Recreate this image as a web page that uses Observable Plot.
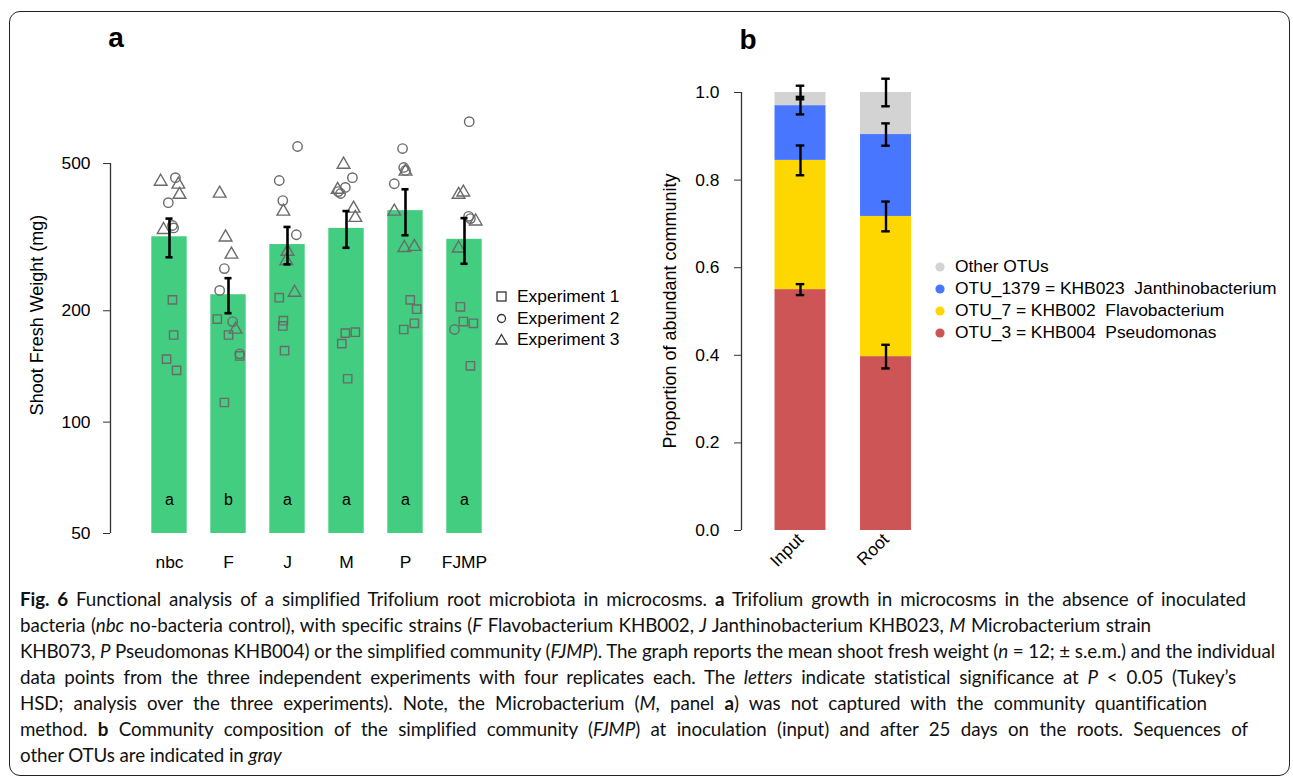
<!DOCTYPE html>
<html><head><meta charset="utf-8">
<script src="https://cdn.jsdelivr.net/npm/d3@7"></script>
<script src="https://cdn.jsdelivr.net/npm/@observablehq/plot@0.6"></script>
<style>
body{margin:0;width:1293px;height:778px;position:relative;background:#fff;font-family:"Liberation Sans",Arial,sans-serif;overflow:hidden;color:#000}
.abs{position:absolute}
#frame{left:9px;top:11px;width:1281px;height:765px;border:1.4px solid #222;border-radius:11px;box-sizing:border-box}
.plab{font-weight:bold;font-size:28px;transform:translate(-50%,-50%);line-height:1}
.ylab{font-size:18px;white-space:nowrap;transform:translate(-50%,-50%) rotate(-90deg);line-height:1}
.leg{font-size:17.4px;white-space:pre;line-height:1}
.leg span.t{position:absolute;transform:translateY(-50%)}
#caption{left:20px;top:586px;font-family:"Liberation Sans Narrow",Lato,sans-serif;color:#111}
.cl{height:26px;line-height:26px;white-space:nowrap}
</style></head><body>
<div id="frame" class="abs"></div>
<div class="abs plab" style="left:116px;top:38px">a</div>
<div class="abs plab" style="left:748px;top:40px">b</div>
<div id="chartA" class="abs" style="left:0;top:0"></div>
<div id="chartB" class="abs" style="left:640px;top:0"></div>
<div class="abs ylab" style="left:37px;top:315px">Shoot Fresh Weight (mg)</div>
<div class="abs ylab" style="left:670px;top:311px">Proportion of abundant community</div>
<div id="legA" class="abs leg" style="left:0;top:0"></div>
<div id="legB" class="abs leg" style="left:0;top:0"></div>
<div id="caption" class="abs"></div>
<script>
// ---------- Panel a data ----------
const treatments = ["nbc","F","J","M","P","FJMP"];
const meanWeight = [317,221,302,334,373,312];
const semWeight  = [38,24,35,38,53,44];
const letters    = ["a","b","a","a","a","a"];
const yTicksA    = [50,100,200,500];
const experiments = ["Experiment 1","Experiment 2","Experiment 3"];
// individual plants (mg), four replicates per treatment
const exp1Weight = [[214,172,148,138],[190,172,151,113],[217,188,182,156],[175,174,163,131],[214,202,185,178],[205,187,185,142]];
const exp2Weight = [[458,392,340,335],[260,227,187,153],[556,450,397,321],[458,431,420,415],[549,488,479,441],[649,360,178,355]];
const exp3Weight = [[447,439,412,331],[415,316,284,178],[371,289,273,224],[497,425,378,357],[476,371,298,296],[418,412,349,295]];
// horizontal jitter (fraction of category step)
const exp1Jitter = [[.05,.07,-.05,.12],[-.19,0,.19,-.07],[-.14,-.07,-.08,-.05],[.15,-.02,-.08,.02],[.08,.19,.15,-.03],[-.07,-.02,.15,.10]];
const exp2Jitter = [[.10,-.02,.05,.07],[-.07,-.15,.07,.19],[.17,-.14,-.08,.15],[.10,-.02,-.14,-.10],[-.05,-.03,0,-.19],[.08,.07,-.17,.10]];
const exp3Jitter = [[-.15,.15,.17,-.10],[-.15,-.05,.05,.12],[-.07,0,-.02,.12],[-.05,-.15,.12,.15],[0,-.19,.15,-.02],[-.02,-.10,.19,-.10]];

// ---------- Panel b data ----------
const samples = ["Input","Root"];
const otus = ["OTU_3 = KHB004  Pseudomonas","OTU_7 = KHB002  Flavobacterium","OTU_1379 = KHB023  Janthinobacterium","Other OTUs"];
const otuColors = ["#CD5555","#FFD700","#4876FF","#D3D3D3"];
const inputProp = [0.550,0.295,0.125,0.030];
const rootProp  = [0.397,0.320,0.187,0.096];
const inputSem  = [0.0125,0.034,0.020,0.0155];
const rootSem   = [0.027,0.034,0.0255,0.0315];
const yTicksB   = [0,0.2,0.4,0.6,0.8,1.0];

const FONT = "Liberation Sans, Arial, sans-serif";

// ---------- Panel a ----------
const pts = [];
[[exp1Weight,exp1Jitter],[exp2Weight,exp2Jitter],[exp3Weight,exp3Jitter]].forEach(([W,J],e) => {
  W.forEach((vals,t) => vals.forEach((v,k) => pts.push({t, v, j: J[t][k], exp: experiments[e]})));
});
const barsA = treatments.map((name,i) => ({i, name, mean: meanWeight[i], sem: semWeight[i], letter: letters[i]}));
const xDomA = [0, 7];
const capA = 0.06, halfBarA = 0.3;
const chartA = Plot.plot({
  width: 560, height: 590,
  marginLeft: 110, marginRight: 37, marginTop: 109, marginBottom: 57,
  style: {fontFamily: FONT, fontSize: "17.4px", background: "transparent", overflow: "visible", color: "#000"},
  x: {domain: xDomA, axis: null},
  y: {type: "log", domain: [50, 700], axis: null},
  symbol: {domain: experiments, range: ["square","circle","triangle"]},
  marks: [
    Plot.rectY(barsA, {x1: d => d.i + 1 - halfBarA, x2: d => d.i + 1 + halfBarA, y1: yTicksA[0], y2: "mean", fill: "#43CD80"}),
    Plot.dot(pts, {x: d => d.t + 1 + d.j, y: "v", symbol: "exp", stroke: "#6a6a6a", fill: "none", r: 4.7, strokeWidth: 1.4}),
    Plot.ruleX(barsA, {x: d => d.i + 1, y1: d => d.mean - d.sem, y2: d => d.mean + d.sem, stroke: "#000", strokeWidth: 2.6}),
    Plot.ruleY(barsA, {x1: d => d.i + 1 - capA, x2: d => d.i + 1 + capA, y: d => d.mean - d.sem, stroke: "#000", strokeWidth: 2.6}),
    Plot.ruleY(barsA, {x1: d => d.i + 1 - capA, x2: d => d.i + 1 + capA, y: d => d.mean + d.sem, stroke: "#000", strokeWidth: 2.6}),
    Plot.text(barsA, {x: d => d.i + 1, text: "letter", frameAnchor: "bottom", dy: -29, fontSize: 16}),
    Plot.text(barsA, {x: d => d.i + 1, text: "name", frameAnchor: "bottom", dy: 34, fontSize: 17.4}),
    Plot.ruleX([xDomA[0]], {y1: yTicksA[0], y2: yTicksA[yTicksA.length - 1], stroke: "#333", strokeWidth: 1.3}),
    Plot.axisY({ticks: yTicksA, tickFormat: d => String(d), tickSize: 7, tickPadding: 13, label: null, fontSize: 17.4, stroke: "#333"})
  ]
});
document.getElementById("chartA").appendChild(chartA);

// ---------- Panel b ----------
const stackB = [];
[[inputProp,inputSem],[rootProp,rootSem]].forEach(([P,S],i) => {
  let acc = 0;
  P.forEach((p,k) => { stackB.push({i, otu: otus[k], y1: acc, y2: acc + p, sem: S[k]}); acc += p; });
});
const xDomB = [0.31, 2.497];
const halfBarB = 0.298, capB = 0.05;
const chartB = Plot.plot({
  width: 300, height: 590,
  marginLeft: 101, marginRight: 12, marginTop: 92, marginBottom: 60,
  style: {fontFamily: FONT, fontSize: "17.4px", background: "transparent", overflow: "visible", color: "#000"},
  x: {domain: xDomB, axis: null},
  y: {domain: [0, 1], axis: null},
  color: {domain: otus, range: otuColors},
  marks: [
    Plot.rectY(stackB, {x1: d => d.i + 1 - halfBarB, x2: d => d.i + 1 + halfBarB, y1: "y1", y2: "y2", fill: "otu"}),
    Plot.ruleX(stackB, {x: d => d.i + 1, y1: d => d.y2 - d.sem, y2: d => d.y2 + d.sem, stroke: "#000", strokeWidth: 2.4}),
    Plot.ruleY(stackB, {x1: d => d.i + 1 - capB, x2: d => d.i + 1 + capB, y: d => d.y2 - d.sem, stroke: "#000", strokeWidth: 2.4}),
    Plot.ruleY(stackB, {x1: d => d.i + 1 - capB, x2: d => d.i + 1 + capB, y: d => d.y2 + d.sem, stroke: "#000", strokeWidth: 2.4}),
    Plot.ruleX([xDomB[0]], {y1: yTicksB[0], y2: yTicksB[yTicksB.length - 1], stroke: "#333", strokeWidth: 1.3}),
    Plot.axisY({ticks: yTicksB, tickFormat: d => d.toFixed(1), tickSize: 7, tickPadding: 15, label: null, fontSize: 17.4, stroke: "#333"}),
    Plot.text(samples, {x: (d,i) => i + 1, text: d => d, frameAnchor: "bottom", rotate: -45, textAnchor: "end", dx: 4, dy: 10, fontSize: 17.4})
  ]
});
document.getElementById("chartB").appendChild(chartB);

// ---------- Legends ----------
const legA = document.getElementById("legA");
const symSvg = {
  "square": '<rect x="1" y="1" width="9" height="9" fill="none" stroke="#333" stroke-width="1.3"/>',
  "circle": '<circle cx="5.5" cy="5.5" r="4" fill="none" stroke="#333" stroke-width="1.3"/>',
  "triangle": '<path d="M5.5 0.5 L11 10 L0 10 Z" fill="none" stroke="#333" stroke-width="1.3"/>'
};
const symRange = ["square","circle","triangle"];
experiments.forEach((e,k) => {
  const y = 297 + k * 21.5;
  legA.insertAdjacentHTML("beforeend",
    `<svg class="abs" width="12" height="12" style="left:496px;top:${y-6}px;overflow:visible">${symSvg[symRange[k]]}</svg><span class="t" style="left:517px;top:${y}px">${e}</span>`);
});
const legB = document.getElementById("legB");
[3,2,1,0].forEach((k,row) => {
  const y = 267 + row * 22;
  legB.insertAdjacentHTML("beforeend",
    `<svg class="abs" width="10" height="10" style="left:935px;top:${y-5}px"><circle cx="5" cy="5" r="4.6" fill="${otuColors[k]}"/></svg><span class="t" style="left:955px;top:${y}px">${otus[k]}</span>`);
});

// ---------- Caption ----------
const capLines = [
  [["b","Fig. 6"],["n"," Functional analysis of a simplified Trifolium root microbiota in microcosms. "],["b","a"],["n"," Trifolium growth in microcosms in the absence of inoculated"]],
  [["n","bacteria ("],["i","nbc"],["n"," no-bacteria control), with specific strains ("],["i","F"],["n"," Flavobacterium KHB002, "],["i","J"],["n"," Janthinobacterium KHB023, "],["i","M"],["n"," Microbacterium strain"]],
  [["n","KHB073, "],["i","P"],["n"," Pseudomonas KHB004) or the simplified community ("],["i","FJMP"],["n","). The graph reports the mean shoot fresh weight ("],["i","n"],["n"," = 12; ± s.e.m.) and the individual"]],
  [["n","data points from the three independent experiments with four replicates each. The "],["i","letters"],["n"," indicate statistical significance at "],["i","P"],["n"," < 0.05 (Tukey’s"]],
  [["n","HSD; analysis over the three experiments). Note, the Microbacterium ("],["i","M"],["n",", panel "],["b","a"],["n",") was not captured with the community quantification"]],
  [["n","method. "],["b","b"],["n"," Community composition of the simplified community ("],["i","FJMP"],["n",") at inoculation (input) and after 25 days on the roots. Sequences of"]],
  [["n","other OTUs are indicated in "],["i","gray"]]
];
const capRight = [1246,1151,1275,1236,1207,1248,null];
const cap = document.getElementById("caption");
const lineEls = capLines.map(parts => {
  const div = document.createElement("div");
  div.className = "cl";
  const inner = document.createElement("span");
  parts.forEach(([k,t]) => {
    const el = document.createElement(k === "b" ? "b" : k === "i" ? "i" : "span");
    el.textContent = t;
    inner.appendChild(el);
  });
  div.appendChild(inner);
  cap.appendChild(div);
  return inner;
});
let fs = 19;
cap.style.fontSize = fs + "px";
const ref = lineEls[2];
let W = ref.getBoundingClientRect().width;
const target = capRight[2] - 20;
if (W > target) {
  fs = fs * Math.sqrt(target / W);
  cap.style.fontSize = fs + "px";
  W = ref.getBoundingClientRect().width;
  const chars = ref.textContent.length;
  cap.style.letterSpacing = ((target - W) / chars) + "px";
}
lineEls.forEach((el,k) => {
  if (capRight[k] == null) return;
  const w = el.getBoundingClientRect().width;
  const spaces = (el.textContent.match(/ /g) || []).length;
  const ws = (capRight[k] - 20 - w) / spaces;
  el.style.wordSpacing = ws + "px";
});
</script>
</body></html>
